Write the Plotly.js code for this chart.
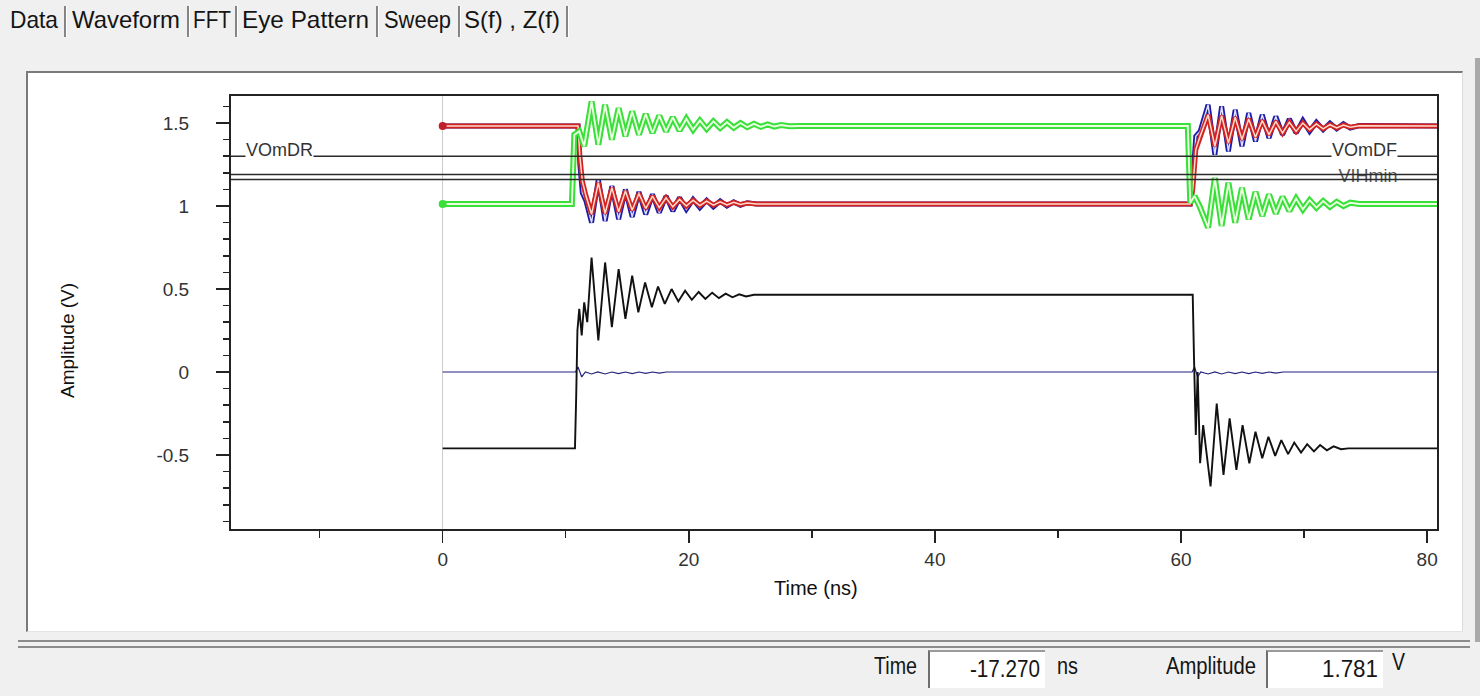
<!DOCTYPE html>
<html>
<head>
<meta charset="utf-8">
<script src="https://cdn.plot.ly/plotly-3.0.1.min.js"></script>
<style>
html,body{margin:0;padding:0;background:#f0f0f0;width:1480px;height:696px;overflow:hidden;font-family:"Liberation Sans",Arial,sans-serif;}
#wrap{position:relative;width:1480px;height:696px;}
.tab{position:absolute;top:6px;font-size:24px;line-height:28px;color:#151515;white-space:nowrap;display:inline-block;transform-origin:0 0;}
.sep{position:absolute;top:6px;width:2px;height:31px;background:#858585;border-right:1px solid #fff;}
#panel{position:absolute;left:26px;top:71px;width:1434px;height:558px;background:#fff;border-left:2px solid #7a7a7a;border-top:2px solid #7a7a7a;border-right:1px solid #dcdcdc;border-bottom:1px solid #e4e4e4;}
#edge{position:absolute;left:1475px;top:58px;width:5px;height:584px;background:#a9a9a9;}
.hl{position:absolute;left:18px;width:1452px;height:2px;background:#8c8c8c;}
.lbl{position:absolute;font-size:23px;line-height:26px;color:#151515;white-space:nowrap;display:inline-block;transform-origin:0 0;}
.box{position:absolute;top:650px;height:36px;background:#fff;border-left:2px solid #6e6e6e;border-top:2px solid #9a9a9a;}
#chart{position:absolute;left:0;top:0;width:1480px;height:696px;}
</style>
</head>
<body>
<div id="wrap">
  <div class="tab" style="left:10px" data-w="48">Data</div><div class="sep" style="left:64px"></div>
  <div class="tab" style="left:72px" data-w="108">Waveform</div><div class="sep" style="left:187px"></div>
  <div class="tab" style="left:193px" data-w="38">FFT</div><div class="sep" style="left:235px"></div>
  <div class="tab" style="left:242px" data-w="127">Eye Pattern</div><div class="sep" style="left:376px"></div>
  <div class="tab" style="left:384px" data-w="67">Sweep</div><div class="sep" style="left:458px"></div>
  <div class="tab" style="left:464px" data-w="96">S(f) , Z(f)</div><div class="sep" style="left:566px"></div>
  <div id="panel"></div>
  <div id="edge"></div>
  <div class="hl" style="top:640px"></div>
  <div class="hl" style="top:646px"></div>
  <div class="lbl" style="left:874px;top:653px" data-w="43">Time</div>
  <div class="box" style="left:928px;width:115px"></div>
  <div class="lbl" style="left:970px;top:656px" data-w="70">-17.270</div>
  <div class="lbl" style="left:1057px;top:653px" data-w="21">ns</div>
  <div class="lbl" style="left:1166px;top:653px" data-w="90">Amplitude</div>
  <div class="box" style="left:1266px;width:115px"></div>
  <div class="lbl" style="left:1322px;top:656px" data-w="56">1.781</div>
  <div class="lbl" style="left:1392px;top:649px" data-w="13">V</div>
  <div id="chart"></div>
</div>
<script>
// ---- axis ranges & ticks ----
const X_RANGE = [-17.2, 80.8];
const Y_RANGE = [-0.946, 1.663];
const X_TICKS = [0, 20, 40, 60, 80];
const X_TICK_LABELS = ['0', '20', '40', '60', '80'];
const Y_TICKS = [-0.5, 0, 0.5, 1, 1.5];
const Y_TICK_LABELS = ['-0.5', '0', '0.5', '1', '1.5'];

// ---- reference levels ----
const REF_LEVELS = [1.30, 1.19, 1.16];
const REF_LABEL_VOMDR = {text: 'VOmDR', x: -13.25, y: 1.30};
const REF_LABEL_VOMDF = {text: 'VOmDF', x: 74.9, y: 1.30};
const REF_LABEL_VIHMIN = {text: 'VIHmin', x: 75.2, y: 1.169};

// ---- green waveform (time ns, volts) ----
const G_T = [0, 10.5, 10.7, 11.1, 11.5, 12.1, 12.65, 13.2, 13.75, 14.3, 14.85, 15.4, 15.95, 16.5, 17.05, 17.6, 18.15, 18.7, 19.25, 19.8, 20.35, 20.9, 21.45, 22.0, 22.55, 23.1, 23.65, 24.2, 24.75, 25.3, 25.85, 26.4, 26.95, 27.5, 28.2, 29.0, 60.55, 60.75, 61.1, 61.5, 62.2, 62.75, 63.3, 63.85, 64.4, 64.95, 65.5, 66.05, 66.6, 67.15, 67.7, 68.25, 68.8, 69.35, 69.9, 70.45, 71.0, 71.55, 72.1, 72.65, 73.2, 73.75, 74.5, 80.8];
const G_V = [1.012, 1.012, 1.43, 1.45, 1.36, 1.63, 1.37, 1.61, 1.40, 1.59, 1.42, 1.57, 1.43, 1.555, 1.44, 1.545, 1.45, 1.535, 1.455, 1.525, 1.46, 1.515, 1.465, 1.51, 1.47, 1.505, 1.472, 1.50, 1.475, 1.495, 1.477, 1.492, 1.479, 1.488, 1.481, 1.482, 1.482, 1.02, 1.06, 1.00, 0.87, 1.17, 0.88, 1.14, 0.90, 1.11, 0.92, 1.085, 0.94, 1.07, 0.955, 1.055, 0.97, 1.045, 0.98, 1.035, 0.99, 1.03, 0.995, 1.025, 1.0, 1.02, 1.012, 1.012];

// ---- red waveform ----
const R_T = [0, 11.0, 11.15, 11.35, 11.65, 12.1, 12.65, 13.2, 13.75, 14.3, 14.85, 15.4, 15.95, 16.5, 17.05, 17.6, 18.15, 18.7, 19.25, 19.8, 20.35, 20.9, 21.45, 22.0, 22.55, 23.1, 23.65, 24.2, 24.75, 25.5, 60.75, 60.95, 61.2, 61.55, 62.2, 62.75, 63.3, 63.85, 64.4, 64.95, 65.5, 66.05, 66.6, 67.15, 67.7, 68.25, 68.8, 69.35, 69.9, 70.45, 71.0, 71.55, 72.1, 72.65, 73.2, 73.75, 74.5, 80.8];
const R_V = [1.482, 1.482, 1.30, 1.15, 1.06, 0.95, 1.14, 0.955, 1.11, 0.965, 1.09, 0.975, 1.075, 0.985, 1.06, 0.99, 1.05, 0.995, 1.04, 1.0, 1.035, 1.003, 1.03, 1.005, 1.025, 1.007, 1.022, 1.009, 1.018, 1.012, 1.012, 1.10, 1.34, 1.42, 1.55, 1.36, 1.545, 1.38, 1.535, 1.40, 1.525, 1.415, 1.515, 1.43, 1.51, 1.44, 1.505, 1.45, 1.50, 1.46, 1.495, 1.465, 1.49, 1.47, 1.488, 1.475, 1.484, 1.482];

// ---- blue waveform (same sampling as red) ----
const B_T = [0, 11.0, 11.15, 11.35, 11.65, 12.1, 12.65, 13.2, 13.75, 14.3, 14.85, 15.4, 15.95, 16.5, 17.05, 17.6, 18.15, 18.7, 19.25, 19.8, 20.35, 20.9, 21.45, 22.0, 22.55, 23.1, 23.65, 24.2, 24.75, 25.5, 60.75, 60.95, 61.2, 61.55, 62.2, 62.75, 63.3, 63.85, 64.4, 64.95, 65.5, 66.05, 66.6, 67.15, 67.7, 68.25, 68.8, 69.35, 69.9, 70.45, 71.0, 71.55, 72.1, 72.65, 73.2, 73.75, 74.5, 80.8];
const B_V = [1.482, 1.482, 1.25, 1.08, 1.03, 0.90, 1.16, 0.91, 1.12, 0.92, 1.10, 0.935, 1.085, 0.95, 1.07, 0.96, 1.06, 0.97, 1.05, 0.98, 1.04, 0.99, 1.035, 0.995, 1.03, 1.0, 1.025, 1.005, 1.02, 1.012, 1.012, 1.15, 1.42, 1.45, 1.61, 1.31, 1.60, 1.33, 1.58, 1.36, 1.56, 1.39, 1.55, 1.41, 1.54, 1.43, 1.525, 1.44, 1.515, 1.45, 1.505, 1.46, 1.50, 1.465, 1.495, 1.47, 1.485, 1.482];

// ---- black differential waveform ----
const K_T = [0, 10.75, 10.85, 10.95, 11.1, 11.3, 11.5, 11.75, 12.1, 12.65, 13.2, 13.75, 14.3, 14.85, 15.4, 15.9, 16.45, 17.0, 17.5, 18.05, 18.6, 19.15, 19.7, 20.25, 20.8, 21.35, 21.9, 22.45, 23.0, 23.55, 24.1, 24.65, 25.3, 26.0, 60.95, 61.05, 61.2, 61.35, 61.55, 61.8, 62.4, 62.9, 63.45, 63.95, 64.5, 65.0, 65.55, 66.05, 66.6, 67.1, 67.65, 68.15, 68.7, 69.2, 69.75, 70.25, 70.8, 71.3, 71.85, 72.4, 73.0, 73.6, 80.8];
const K_V = [-0.46, -0.46, -0.15, 0.25, 0.38, 0.22, 0.42, 0.30, 0.69, 0.19, 0.66, 0.27, 0.62, 0.32, 0.58, 0.36, 0.54, 0.39, 0.515, 0.41, 0.50, 0.425, 0.49, 0.435, 0.482, 0.44, 0.478, 0.445, 0.472, 0.45, 0.468, 0.455, 0.465, 0.465, 0.465, 0.10, -0.38, 0.0, -0.55, -0.32, -0.69, -0.19, -0.62, -0.28, -0.59, -0.32, -0.55, -0.36, -0.52, -0.39, -0.505, -0.41, -0.495, -0.425, -0.485, -0.435, -0.478, -0.44, -0.472, -0.448, -0.465, -0.46, -0.46];

// ---- navy near-zero waveform ----
const Z_T = [0, 10.8, 11.0, 11.3, 11.6, 12.1, 12.6, 13.2, 13.75, 14.3, 14.85, 15.4, 15.95, 16.5, 17.05, 17.6, 18.2, 60.9, 61.1, 61.35, 61.6, 62.2, 62.75, 63.3, 63.85, 64.4, 64.95, 65.5, 66.05, 66.6, 67.15, 67.7, 68.3, 80.8];
const Z_V = [0, 0, 0.03, -0.03, 0.0, -0.012, 0, -0.012, 0, -0.01, 0, -0.01, 0, -0.008, 0, -0.007, 0, 0, 0.03, -0.03, 0, -0.012, 0, -0.012, 0, -0.01, 0, -0.01, 0, -0.008, 0, -0.007, 0, 0];

// ---- fit HTML chrome texts to their measured widths ----
document.querySelectorAll('[data-w]').forEach(el => {
  const w = el.getBoundingClientRect().width;
  el.style.transform = 'scaleX(' + (+el.dataset.w / w).toFixed(3) + ')';
});

// ---- styling ----
const REG = '"Liberation Sans", Arial, sans-serif';
const L = 231, R = 1437, T = 96, B = 529, W = 1480, H = 696;
const pxX = p => (p - L) / (R - L);
const pxY = p => (B - p) / (B - T);

function line(x, y, color, width) {
  return {x: x, y: y, type: 'scatter', mode: 'lines', hoverinfo: 'skip',
          line: {color: color, width: width, shape: 'linear'}};
}
const traces = [
  line(Z_T, Z_V, '#23237e', 1.2),
  line(K_T, K_V, '#111111', 1.9),
  line(B_T, B_V, '#1c1ca6', 5),
  line(B_T, B_V, '#e2e2ff', 1.4),
  line(R_T, R_V, '#d22222', 5),
  line(R_T, R_V, '#ffdccc', 1.5),
  line(G_T, G_V, '#3ae03a', 6),
  line(G_T, G_V, '#eaffe0', 1.9),
  {x: [R_T[0], G_T[0]], y: [R_V[0], G_V[0]], type: 'scatter', mode: 'markers', hoverinfo: 'skip',
   marker: {size: 8, color: ['#c0202c', '#3ae03a']}},
  {x: [REF_LABEL_VIHMIN.x], y: [REF_LABEL_VIHMIN.y], text: [REF_LABEL_VIHMIN.text], type: 'scatter',
   mode: 'text', hoverinfo: 'skip', textposition: 'middle center',
   textfont: {family: REG, size: 18, color: '#555'}}
];

const shapes = REF_LEVELS.map(v => ({type: 'line', xref: 'paper', x0: 0, x1: 1, yref: 'y', y0: v, y1: v,
  layer: 'above', line: {color: '#2b2b2b', width: 1.3}}));

const refAnn = [REF_LABEL_VOMDR, REF_LABEL_VOMDF].map(a => ({
  text: a.text, x: a.x, y: a.y, xref: 'x', yref: 'y', showarrow: false, yshift: 6,
  bgcolor: '#ffffff', borderpad: 0, font: {family: REG, size: 18, color: '#333'}}));

const layout = {
  width: W, height: H,
  margin: {l: L, r: W - R, t: T, b: H - B, pad: 0},
  paper_bgcolor: 'rgba(0,0,0,0)', plot_bgcolor: '#ffffff',
  showlegend: false, dragmode: false,
  xaxis: {range: X_RANGE, tickmode: 'array', tickvals: X_TICKS, ticktext: X_TICK_LABELS,
    ticks: 'outside', ticklen: 12, tickwidth: 1.5, tickcolor: '#222',
    showline: true, mirror: true, linecolor: '#222', linewidth: 2,
    showgrid: false, zeroline: true, zerolinecolor: '#cdcdcd', zerolinewidth: 1,
    tickfont: {family: REG, size: 19, color: '#333'}, ticklabelstandoff: 0,
    minor: {tickmode: 'linear', tick0: 0, dtick: 10, ticks: 'outside', ticklen: 7, tickwidth: 1.5, tickcolor: '#222', showgrid: false},
    fixedrange: true},
  yaxis: {range: Y_RANGE, tickmode: 'array', tickvals: Y_TICKS, ticktext: Y_TICK_LABELS,
    ticks: 'outside', ticklen: 13, tickwidth: 1.5, tickcolor: '#222',
    showline: true, mirror: true, linecolor: '#222', linewidth: 2,
    showgrid: false, zeroline: false,
    tickfont: {family: REG, size: 19, color: '#333'}, ticklabelstandoff: 23,
    minor: {tickmode: 'linear', tick0: 0, dtick: 0.1, ticks: 'outside', ticklen: 6, tickwidth: 1.5, tickcolor: '#222', showgrid: false},
    fixedrange: true},
  shapes: shapes,
  annotations: refAnn.concat([
    {text: 'Time (ns)', xref: 'paper', yref: 'paper', x: pxX(816), y: pxY(588), showarrow: false,
     xanchor: 'center', yanchor: 'middle', font: {family: REG, size: 20, color: '#111'}},
    {text: 'Amplitude (V)', xref: 'paper', yref: 'paper', x: pxX(67), y: pxY(341), showarrow: false,
     textangle: -90, xanchor: 'center', yanchor: 'middle', font: {family: REG, size: 19, color: '#111'}}
  ])
};

Plotly.newPlot('chart', traces, layout, {displayModeBar: false, staticPlot: true});
</script>
</body>
</html>
